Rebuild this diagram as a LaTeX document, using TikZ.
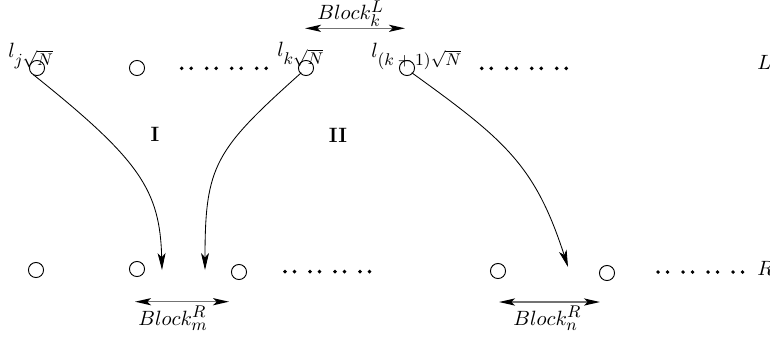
\documentclass[tikz,border=0pt]{standalone}
\usetikzlibrary{arrows.meta}
\DeclareMathSizes{10.95}{10.95}{9}{7}
\begin{document}
\begin{tikzpicture}[x=0.53pt,y=-0.53pt,
  pt/.style={circle,draw,inner sep=0pt,minimum size=8pt,line width=0.5pt},
  lab/.style={anchor=base west,inner sep=0pt,font=\fontsize{10.95}{13}\selectfont},
  flow/.style={-{Stealth[length=9pt,width=4.2pt,inset=2.3pt]},line width=0.45pt},
  span/.style={{Stealth[length=8.5pt,width=3.8pt,inset=2pt,color=black]}-{Stealth[length=8.5pt,width=3.8pt,inset=2pt,color=black]},draw=black!55,line width=0.8pt},
  roman/.style={inner sep=0pt,font=\fontsize{11}{13}\selectfont\bfseries}]
\useasboundingbox (0,0) rectangle (770,340);
% top row
\node[pt] (t1) at (37,68) {};
\node[pt] (t2) at (137,68) {};
\node[pt] (t3) at (306,68) {};
\node[pt] (t4) at (407,68) {};
% bottom row
\node[pt] (b1) at (36,270) {};
\node[pt] (b2) at (137,269) {};
\node[pt] (b3) at (239,272) {};
\node[pt] (b4) at (498,271) {};
\node[pt] (b5) at (607,273) {};
% dots
\foreach \x/\y in {181.7/68.3,481.7/68.3,285/271.7,658/272}{
  \foreach \d in {0,9.5,25,34.5,50,59.5,75,84.5}{
    \fill (\x+\d,\y) circle (1.05pt);
  }
}
% labels
\node[lab] (lj) at (8,57) {$l_{j\sqrt{N}}$};
\node[lab] (lk) at (277,56) {$l_{k\sqrt{N}}$};
\node[lab] (lk1) at (371,57) {$l_{(k\:+\:1)\sqrt{N}}$};
\node[lab] (L) at (757,69) {$L$};
\node[lab] (R) at (757,275) {$R$};
\node[roman] (I) at (155,134) {I};
\node[roman] (II) at (338,135) {II};
% block spans
\coordinate (kL1) at (305,28.3);
\coordinate (kL2) at (405,28.3);
\draw[span] (kL1) -- (kL2);
\node[lab] (bkL) at (317,19.5) {$Block_k^L$};
\coordinate (mR1) at (135,301.7);
\coordinate (mR2) at (229,301.7);
\draw[span] (mR1) -- (mR2);
\node[lab] (bmR) at (138,325) {$Block_m^R$};
\coordinate (nR1) at (499,302);
\coordinate (nR2) at (600,302);
\draw[span] (nR1) -- (nR2);
\node[lab] (bnR) at (513,325) {$Block_n^R$};
% flows
\coordinate (e1) at (162,270);
\coordinate (e2) at (205,270);
\coordinate (e3) at (568,267);
\draw[flow] (t1.south west) ++(2,1) .. controls (140,160) and (160,190) .. (e1);
\draw[flow] (t3.south west) ++(1,-1) .. controls (215,150) and (205,165) .. (e2);
\draw[flow] (t4.south east) ++(-1,-1) .. controls (505,140) and (535,165) .. (e3);
\end{tikzpicture}
\end{document}
